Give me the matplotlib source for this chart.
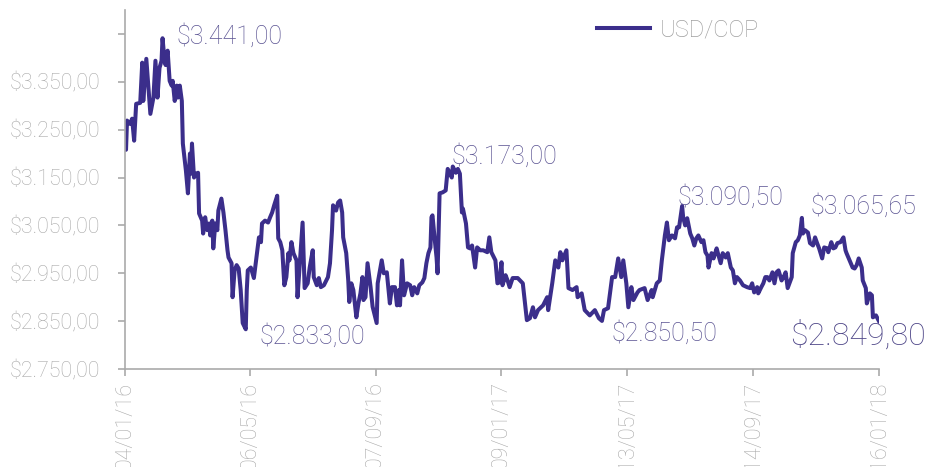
import matplotlib
matplotlib.use("Agg")
import matplotlib.pyplot as plt
import numpy as np
import pandas as pd

# ---------------- data ----------------
start_date = "2016-01-04"
day_offset = [
    0, 1, 2, 5, 7, 9, 11, 15, 17, 18, 21, 23, 25, 28, 30, 32, 34, 36, 37, 39,
    40, 42, 44, 46, 47, 49, 51, 52, 54, 56, 57, 60, 62, 64, 65, 66, 68, 70, 72, 73,
    76, 77, 79, 81, 83, 84, 86, 87, 89, 91, 92, 95, 97, 99, 101, 102, 105, 106, 108, 110,
    112, 114, 116, 119, 120, 121, 124, 127, 130, 132, 134, 135, 138, 141, 143, 145, 147, 150, 151, 153,
    155, 157, 159, 161, 162, 164, 166, 169, 170, 172, 175, 177, 180, 182, 185, 186, 189, 191, 193, 196,
    200, 202, 204, 205, 208, 210, 212, 214, 215, 218, 220, 221, 223, 225, 228, 230, 232, 234, 235, 237,
    239, 242, 244, 248, 249, 253, 255, 258, 261, 263, 266, 268, 270, 271, 273, 275, 278, 281, 283, 285,
    288, 290, 293, 295, 297, 299, 301, 302, 303, 305, 307, 308, 310, 313, 316, 318, 320, 322, 323, 326,
    328, 330, 332, 333, 336, 338, 340, 342, 345, 347, 350, 353, 357, 359, 361, 365, 367, 369, 371, 372,
    375, 377, 379, 382, 387, 392, 396, 399, 402, 404, 407, 412, 416, 417, 421, 424, 427, 429, 431, 435,
    437, 441, 445, 446, 450, 453, 458, 463, 467, 470, 472, 476, 480, 483, 486, 489, 491, 494, 496, 499,
    501, 505, 507, 512, 515, 519, 520, 524, 527, 529, 532, 534, 536, 539, 542, 544, 546, 549, 550, 552,
    554, 557, 559, 561, 563, 565, 568, 570, 572, 574, 575, 578, 580, 583, 584, 587, 589, 592, 594, 597,
    599, 601, 603, 606, 609, 613, 616, 618, 620, 623, 624, 627, 629, 631, 633, 635, 638, 640, 642, 644,
    647, 649, 651, 653, 657, 658, 661, 663, 665, 667, 668, 670, 673, 675, 678, 680, 682, 684, 687, 689,
    692, 693, 696, 698, 700, 702, 705, 708, 710, 711, 714, 717, 719, 721, 723, 726, 727, 730, 731, 734,
    736, 737, 740, 743,
]
usd_cop = [
    3216, 3208, 3269, 3262, 3273, 3227, 3304, 3306, 3390, 3310, 3398, 3340, 3283, 3317, 3394, 3317, 3379, 3394, 3441, 3394,
    3385, 3415, 3352, 3342, 3352, 3310, 3342, 3317, 3342, 3310, 3221, 3165, 3117, 3200, 3158, 3221, 3150, 3158, 3160, 3075,
    3060, 3033, 3067, 3040, 3054, 3029, 3060, 3002, 3054, 3040, 3081, 3106, 3077, 3040, 2998, 2983, 2971, 2900, 2956, 2967,
    2960, 2915, 2846, 2833, 2915, 2956, 2962, 2940, 2992, 3025, 3015, 3054, 3060, 3056, 3067, 3077, 3092, 3112, 3023, 3015,
    2998, 2925, 2942, 2992, 2977, 3015, 2992, 2977, 2900, 2962, 3056, 2919, 2929, 2962, 2998, 2942, 2925, 2940, 2921, 2925,
    2942, 2971, 3040, 3092, 3081, 3098, 3102, 3077, 3025, 2992, 2935, 2890, 2929, 2915, 2858, 2887, 2908, 2942, 2894, 2900,
    2971, 2921, 2880, 2846, 2929, 2977, 2950, 2952, 2887, 2921, 2921, 2883, 2915, 2883, 2977, 2904, 2929, 2925, 2904, 2921,
    2908, 2925, 2931, 2940, 2971, 2992, 3004, 3067, 3071, 3025, 2983, 2950, 3117, 3119, 3123, 3168, 3160, 3150, 3173, 3160,
    3168, 3158, 3077, 3085, 3054, 3004, 3002, 3008, 2962, 3004, 2998, 2998, 2994, 3025, 2994, 2977, 2929, 2931, 2973, 2925,
    2946, 2935, 2921, 2940, 2940, 2929, 2852, 2856, 2879, 2858, 2873, 2883, 2900, 2873, 2929, 2977, 2962, 2994, 2977, 2998,
    2919, 2915, 2921, 2900, 2908, 2873, 2862, 2873, 2856, 2850.5, 2873, 2877, 2942, 2942, 2981, 2942, 2977, 2929, 2879, 2921,
    2894, 2910, 2915, 2919, 2894, 2915, 2900, 2929, 2935, 2977, 3029, 3056, 3019, 3029, 3023, 3046, 3046, 3090.5, 3067, 3050,
    3065, 3033, 3023, 3008, 3023, 3029, 3015, 3019, 2994, 2987, 2962, 2992, 2981, 3002, 2994, 2971, 2992, 2983, 2992, 2962,
    2956, 2929, 2942, 2935, 2925, 2921, 2919, 2929, 2910, 2921, 2908, 2921, 2929, 2942, 2942, 2935, 2952, 2929, 2952, 2956,
    2935, 2942, 2952, 2919, 2942, 2992, 3015, 3019, 3029, 3065.65, 3033, 3040, 3035, 3013, 3008, 3025, 3013, 3002, 2981, 3004,
    3002, 2994, 3015, 3002, 3004, 3013, 3015, 3025, 2998, 2992, 2977, 2962, 2960, 2967, 2981, 2962, 2935, 2919, 2887, 2908,
    2904, 2858, 2862, 2849.8,
]
series_name = "USD/COP"
tick_dates = ["2016-01-04", "2016-05-06", "2016-09-07", "2017-01-09",
              "2017-05-13", "2017-09-14", "2018-01-16"]
tick_labels = ["04/01/16", "06/05/16", "07/09/16", "09/01/17",
               "13/05/17", "14/09/17", "16/01/18"]
y_ticks = [2750, 2850, 2950, 3050, 3150, 3250, 3350, 3450]
y_tick_labels = ["$2.750,00", "$2.850,00", "$2.950,00", "$3.050,00",
                 "$3.150,00", "$3.250,00", "$3.350,00", ""]
annot_values = [3441, 2833, 3173, 2850.5, 3090.5, 3065.65]
annot_labels = ["$3.441,00", "$2.833,00", "$3.173,00", "$2.850,50", "$3.090,50", "$3.065,65"]
last_label = "$2.849,80"

# ---------------- plot ----------------
FONT = ["Roboto", "DejaVu Sans"]
plt.rcParams["font.family"] = FONT

dates = pd.Timestamp(start_date) + pd.to_timedelta(day_offset, unit="D")
values = np.array(usd_cop, dtype=float)

fig = plt.figure(figsize=(9.3, 4.67), dpi=100)
ax = fig.add_axes([125 / 930, 1 - 369 / 467, (879 - 125) / 930, (369 - 10) / 467])

line_color = "#3b2e8b"
ax.plot(dates, values, color=line_color, lw=2.9, solid_joinstyle="round",
        label=series_name)

ax.set_xlim(pd.Timestamp(tick_dates[0]), pd.Timestamp(tick_dates[-1]))
ax.set_ylim(2750, 3500)

grey = "#aaaaaa"
for s in ["top", "right"]:
    ax.spines[s].set_visible(False)
for s in ["left", "bottom"]:
    ax.spines[s].set_color(grey)
    ax.spines[s].set_linewidth(1.2)

ax.set_yticks(y_ticks)
ax.set_yticklabels(y_tick_labels)
ax.set_xticks(pd.to_datetime(tick_dates))
ax.set_xticklabels(tick_labels, rotation=90, va="top", ha="center")
ax.tick_params(axis="y", length=5, width=1.2, color=grey, labelcolor=grey,
               labelsize=15.5, pad=13)
ax.tick_params(axis="x", length=5, width=1.2, color=grey, labelcolor=grey,
               labelsize=15.5, pad=4)
for t in ax.get_xticklabels() + ax.get_yticklabels():
    t.set_fontweight("light")

# annotations
ann_color = "#5a5392"
offsets = [(10, 1), (10, -5), (-1, 7), (7, -9), (-3, 6), (6, 8)]
for v, lab, off in zip(annot_values, annot_labels, offsets):
    idx = int(np.argmin(np.abs(values - v)))
    ax.annotate(lab, xy=(dates[idx], values[idx]), xytext=off,
                textcoords="offset points", ha="left", va="center",
                fontsize=18, color=ann_color, fontweight="light",
                annotation_clip=False)
ax.annotate(last_label, xy=(dates[-1], values[-1]), xytext=(-15, -10),
            textcoords="offset points", ha="center", va="center",
            fontsize=23, color="#4d4587", fontweight="light",
            annotation_clip=False)

leg = ax.legend(loc="upper left", bbox_to_anchor=(597 / 930, 1 - 18 / 467),
                bbox_transform=fig.transFigure, frameon=False, fontsize=17,
                handlelength=2.24, handletextpad=0.42, borderpad=0,
                borderaxespad=0)
for t in leg.get_texts():
    t.set_color("#a0a0a0")
    t.set_fontweight("light")

fig.savefig("out.png", dpi=100)
